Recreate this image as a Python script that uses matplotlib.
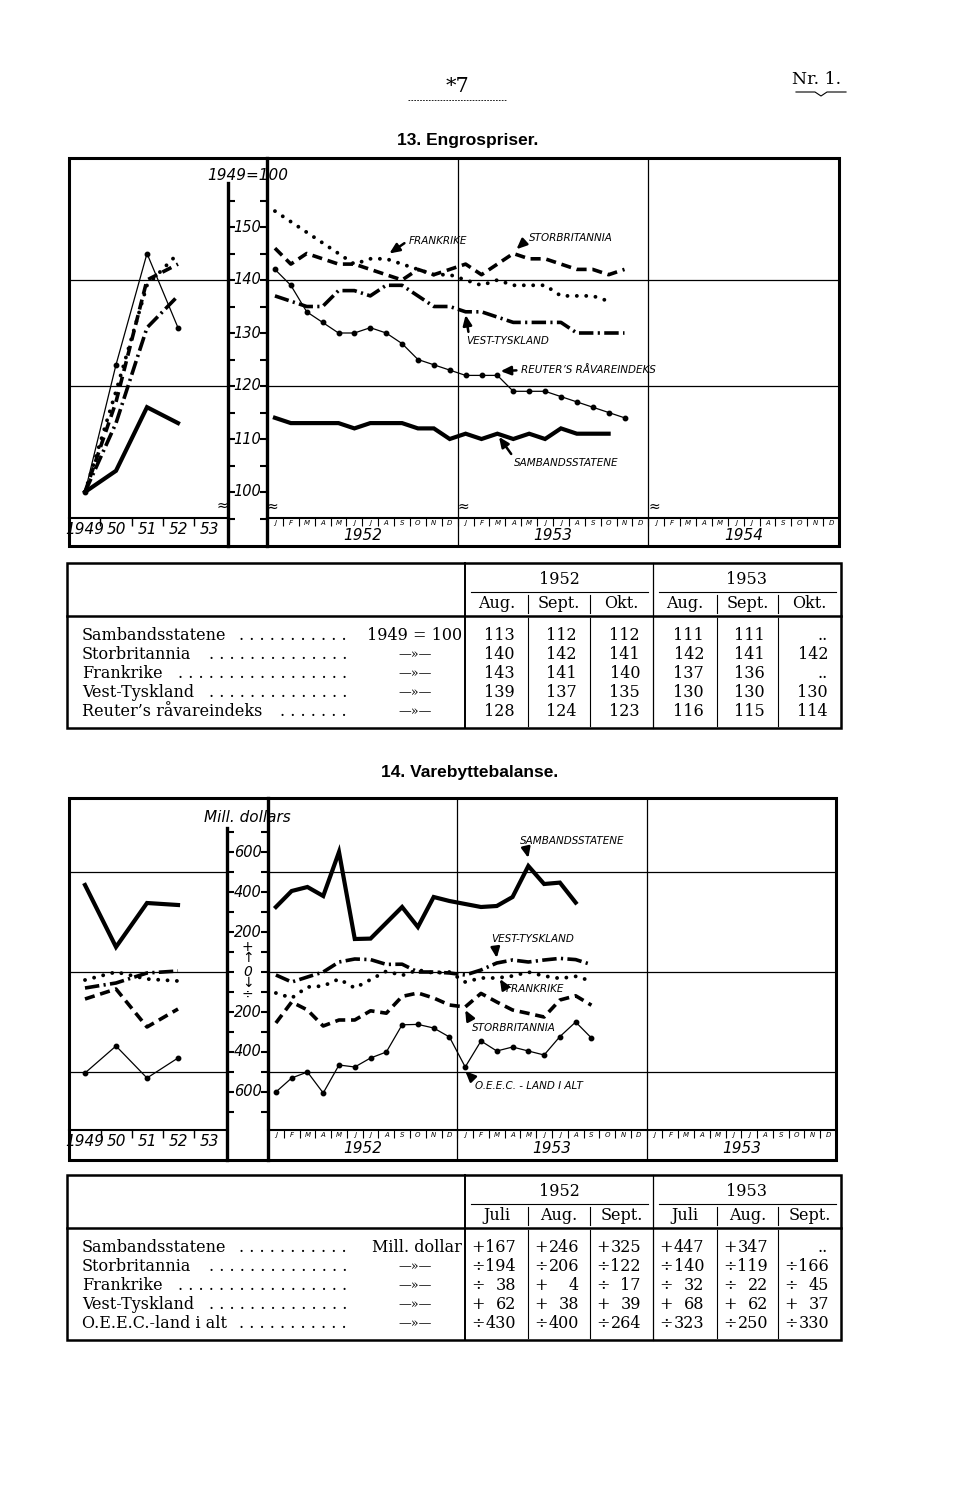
import matplotlib
matplotlib.use("Agg")
import matplotlib.pyplot as plt
from matplotlib.patches import Rectangle
import numpy as np

W, H = 960, 1505

# ---------------------------------------------------------------- data
# 13. Engrospriser (1949 = 100), yearly 1949-52
years = [1949, 1950, 1951, 1952]
wp_year_us = [100, 104, 116, 113]
wp_year_uk = [100, 117, 140, 143]
wp_year_fr = [100, 119, 139, 145]
wp_year_de = [100, 113, 131, 137]
wp_year_reuter = [100, 124, 145, 131]

# monthly, starting January 1952
wp_us = [114, 113, 113, 113, 113, 112, 113, 113, 113, 112, 112, 110,
         111, 110, 111, 110, 111, 110, 112, 111, 111, 111]
wp_uk = [146, 143, 145, 144, 143, 143, 142, 141, 140, 142, 141, 142,
         143, 141, 143, 145, 144, 144, 143, 142, 142, 141, 142]
wp_fr = [153, 151, 149, 147, 145, 143, 144, 144, 143, 142, 141, 141,
         140, 139, 140, 139, 139, 139, 137, 137, 137, 136]
wp_de = [137, 136, 135, 135, 138, 138, 137, 139, 139, 137, 135, 135,
         134, 134, 133, 132, 132, 132, 132, 130, 130, 130, 130]
wp_reuter = [142, 139, 134, 132, 130, 130, 131, 130, 128, 125, 124, 123,
             122, 122, 122, 119, 119, 119, 118, 117, 116, 115, 114]

# 14. Varebyttebalanse (mill. dollars), yearly 1949-52
tb_year_us = [435, 125, 345, 335]
tb_year_uk = [-135, -85, -275, -185]
tb_year_fr = [-40, 0, -35, -45]
tb_year_de = [-80, -55, -5, 5]
tb_year_oeec = [-505, -370, -530, -430]

# monthly, starting January 1952
tb_us = [325, 405, 425, 380, 600, 165, 167, 246, 325, 225, 375, 355,
         340, 325, 330, 375, 530, 440, 447, 347]
tb_uk = [-255, -150, -190, -270, -240, -240, -194, -206, -122, -105, -130, -165,
         -175, -107, -150, -190, -207, -225, -140, -119, -166]
tb_fr = [-105, -130, -75, -70, -35, -80, -38, 4, -17, 10, -5, 0,
         -50, -30, -30, -20, 0, -20, -32, -22, -45]
tb_de = [-15, -50, -25, 0, 50, 65, 62, 38, 39, 0, 0, -5,
         -15, 10, 45, 60, 50, 60, 68, 62, 37]
tb_oeec = [-600, -530, -500, -605, -465, -475, -430, -400, -264, -262, -280, -325,
           -475, -345, -395, -375, -395, -415, -323, -250, -330]

month_letters = ["J", "F", "M", "A", "M", "J", "J", "A", "S", "O", "N", "D"]
year_labels = ["1949", "50", "51", "52", "53"]

# tables
t1_years = ["1952", "1953"]
t1_months = ["Aug.", "Sept.", "Okt.", "Aug.", "Sept.", "Okt."]
t1_names = ["Sambandsstatene", "Storbritannia", "Frankrike", "Vest-Tyskland",
            "Reuter\u2019s råvareindeks"]
t1_unit = "1949 = 100"
t1_values = [
    [113, 112, 112, 111, 111, None],
    [140, 142, 141, 142, 141, 142],
    [143, 141, 140, 137, 136, None],
    [139, 137, 135, 130, 130, 130],
    [128, 124, 123, 116, 115, 114],
]
t2_years = ["1952", "1953"]
t2_months = ["Juli", "Aug.", "Sept.", "Juli", "Aug.", "Sept."]
t2_names = ["Sambandsstatene", "Storbritannia", "Frankrike", "Vest-Tyskland",
            "O.E.E.C.-land i alt"]
t2_unit = "Mill. dollar"
t2_values = [
    [167, 246, 325, 447, 347, None],
    [-194, -206, -122, -140, -119, -166],
    [-38, 4, -17, -32, -22, -45],
    [62, 38, 39, 68, 62, 37],
    [-430, -400, -264, -323, -250, -330],
]

# ---------------------------------------------------------------- styles
SANS = dict(family="DejaVu Sans", style="italic")
SERIF = dict(family="DejaVu Serif")
LINE_US = dict(color="black", lw=3.0, solid_joinstyle="miter")
LINE_UK = dict(color="black", lw=2.6, ls=(0, (2.8, 1.6)))
LINE_FR = dict(color="black", lw=2.8, ls=(0, (0.01, 2.4)), dash_capstyle="round")
LINE_DE = dict(color="black", lw=2.6, ls=(0, (4.0, 1.2, 0.6, 1.2)))
LINE_THIN = dict(color="black", lw=0.9, marker="o", ms=3.2)

YEAR_X, YEAR_W = 85, 31  # pixel x of 1949 and pixels per year in the yearly panels

fig = plt.figure(figsize=(W / 100, H / 100), dpi=100)
fig.patch.set_facecolor("white")
bg = fig.add_axes([0, 0, 1, 1])
bg.set_xlim(0, W)
bg.set_ylim(H, 0)
bg.axis("off")


def frac(x0, y0, x1, y1):
    return [x0 / W, 1 - y1 / H, (x1 - x0) / W, (y1 - y0) / H]


def make_chart(top, base, bottom, left, col_l, col_r, right, val, ticks, grid,
               col_top, year_names):
    lo, hi = val(base), val(top)
    ann = fig.add_axes(frac(left, top, col_l, base), facecolor="none")
    mon = fig.add_axes(frac(col_r, top, right, base), facecolor="none")
    col = fig.add_axes(frac(col_l, top, col_r, bottom), facecolor="none")
    bg.add_patch(Rectangle((left, top), right - left, bottom - top,
                           fill=False, lw=2.2, color="black"))

    ann.set_xlim(1949 - (YEAR_X - left) / YEAR_W, 1949 + (col_l - YEAR_X) / YEAR_W)
    mon.set_xlim(0, 36)
    for ax in (ann, mon):
        ax.set_ylim(lo, hi)
        for s in ("top", "left", "right"):
            ax.spines[s].set_visible(False)
        ax.spines["bottom"].set_linewidth(1.5)
        ax.tick_params(axis="y", left=False, labelleft=False)
        for g in grid:
            ax.axhline(g, color="black", lw=0.9, zorder=1)

    ann.set_xticks(range(1949, 1954))
    ann.set_xticklabels(year_labels, fontsize=11, **SANS)
    ann.set_xticks(np.arange(1949.5, 1953), minor=True)
    ann.tick_params(axis="x", which="major", length=0, pad=3)
    ann.tick_params(axis="x", which="minor", direction="out", length=6, width=1)

    mon.set_xticks(np.arange(36) + 0.5)
    mon.set_xticklabels(month_letters * 3, fontsize=5, **SANS)
    mon.set_xticks(np.arange(1, 36), minor=True)
    mon.tick_params(axis="x", which="major", length=0, pad=1.5)
    mon.tick_params(axis="x", which="minor", direction="out", length=6, width=0.8)
    band = (bottom - base) / (base - top)
    for m in (12, 24):
        mon.axvline(m, ymin=-band, ymax=1, color="black", lw=0.9, clip_on=False)
    for i, name in enumerate(year_names):
        mon.text(12 * i + 6, -0.62 * band, name, transform=mon.get_xaxis_transform(),
                 ha="center", va="center", fontsize=11, **SANS)

    col.set_xlim(0, 1)
    col.set_ylim(val(bottom), hi)
    col.spines["top"].set_visible(False)
    col.spines["bottom"].set_visible(False)
    col.spines["left"].set_linewidth(2.4)
    col.spines["right"].set_linewidth(2.4)
    col.spines["left"].set_bounds(val(bottom), col_top)
    col.set_xticks([])
    col.set_yticks(ticks)
    col.tick_params(axis="y", direction="in", left=True, right=True, length=5,
                    width=1.5, labelleft=False)
    return ann, mon, col


def note(ax, text, xy, offset, relpos=(0, 0.5), va="center"):
    ax.annotate(text, xy=xy, xytext=offset, textcoords="offset pixels",
                ha="left", va=va, fontsize=7.5, **SANS,
                arrowprops=dict(arrowstyle="-|>,head_length=0.8,head_width=0.35",
                                lw=1.8, color="black", shrinkA=1, shrinkB=0,
                                relpos=relpos))


# ---------------------------------------------------------------- header
bg.text(458, 86, "*7", ha="center", va="center", fontsize=15, **SERIF)
bg.plot([408, 506], [100, 100], color="black", lw=0.6, ls=(0, (2, 1.5)))
bg.text(817, 80, "Nr. 1.", ha="center", va="center", fontsize=12.5, **SERIF)
bg.plot([796, 815, 821, 827, 846], [92, 92, 96, 92, 92], color="black", lw=0.8)
bg.text(468, 140, "13. Engrospriser.", ha="center", va="center", fontsize=12.5,
        family="Liberation Sans", weight="bold")
bg.text(470, 773, "14. Varebyttebalanse.", ha="center", va="center", fontsize=12.5,
        family="Liberation Sans", weight="bold")

# ---------------------------------------------------------------- chart 13
def val1(y):
    return 100 + (492 - y) / 5.3


ann1, mon1, col1 = make_chart(158, 518, 546, 69, 228, 267, 839, val1,
                              np.arange(95, 160, 5), [140, 120], val1(183),
                              ["1952", "1953", "1954"])
mx = lambda s: np.arange(len(s)) + 0.5

ann1.plot(years, wp_year_us, **LINE_US)
ann1.plot(years, wp_year_uk, **LINE_UK)
ann1.plot(years, wp_year_fr, **LINE_FR)
ann1.plot(years, wp_year_de, **LINE_DE)
ann1.plot(years, wp_year_reuter, **LINE_THIN)
mon1.plot(mx(wp_us), wp_us, **LINE_US)
mon1.plot(mx(wp_uk), wp_uk, **LINE_UK)
mon1.plot(mx(wp_fr), wp_fr, **LINE_FR)
mon1.plot(mx(wp_de), wp_de, **LINE_DE)
mon1.plot(mx(wp_reuter), wp_reuter, **LINE_THIN)

for v in range(100, 160, 10):
    col1.text(0.5, v, str(v), transform=col1.get_yaxis_transform(), ha="center",
              va="center", fontsize=10.5, **SANS)
col1.text(0.5, val1(175), "1949=100", transform=col1.get_yaxis_transform(),
          ha="center", va="center", fontsize=11, **SANS)
ann1.text(1.0, 0.035, "≈", transform=ann1.transAxes, ha="right", va="center", fontsize=10)
for m in (0, 12, 24):
    mon1.text(m, 0.03, "≈", transform=mon1.get_xaxis_transform(), ha="left",
              va="center", fontsize=10)

note(mon1, "FRANKRIKE", (7.7, wp_fr[7] + 1.0), (19, 13))
note(mon1, "STORBRITANNIA", (15.7, wp_uk[15] + 0.8), (12, 11))
note(mon1, "VEST-TYSKLAND", (12.5, wp_de[12] - 0.6), (1, -21), relpos=(0.03, 1), va="top")
note(mon1, "REUTER\u2019S RÅVAREINDEKS", (14.7, wp_reuter[14] + 0.8), (20, 1))
note(mon1, "SAMBANDSSTATENE", (14.6, wp_us[14] - 0.6), (15, -26), relpos=(0, 1))

# ---------------------------------------------------------------- chart 14
def val2(y):
    return (972 - y) / 0.2


ann2, mon2, col2 = make_chart(798, 1130, 1160, 69, 227, 268, 836, val2,
                              np.arange(-700, 800, 100), [500, 0, -500], val2(828),
                              ["1952", "1953", "1953"])
ann2.plot(years, tb_year_us, **LINE_US)
ann2.plot(years, tb_year_uk, **LINE_UK)
ann2.plot(years, tb_year_fr, **LINE_FR)
ann2.plot(years, tb_year_de, **LINE_DE)
ann2.plot(years, tb_year_oeec, **LINE_THIN)
mon2.plot(mx(tb_us), tb_us, **LINE_US)
mon2.plot(mx(tb_uk), tb_uk, **LINE_UK)
mon2.plot(mx(tb_fr), tb_fr, **LINE_FR)
mon2.plot(mx(tb_de), tb_de, **LINE_DE)
mon2.plot(mx(tb_oeec), tb_oeec, **LINE_THIN)

for v in (600, 400, 200, -200, -400, -600):
    col2.text(0.5, v, str(abs(v)), transform=col2.get_yaxis_transform(), ha="center",
              va="center", fontsize=10.5, **SANS)
for v, s in ((125, "+"), (68, "↑"), (0, "0"), (-55, "↓"), (-115, "÷")):
    col2.text(0.5, v, s, transform=col2.get_yaxis_transform(), ha="center",
              va="center", fontsize=10, **SANS)
col2.text(0.5, val2(817), "Mill. dollars", transform=col2.get_yaxis_transform(),
          ha="center", va="center", fontsize=11, **SANS)

note(mon2, "SAMBANDSSTATENE", (16.5, tb_us[16] + 40), (-8, 17), relpos=(0.05, 0))
note(mon2, "VEST-TYSKLAND", (14.5, tb_de[14] + 25), (-6, 19), relpos=(0.05, 0))
note(mon2, "FRANKRIKE", (14.7, tb_fr[14] - 5), (6, -10))
note(mon2, "STORBRITANNIA", (12.5, tb_uk[12] - 15), (7, -18), relpos=(0, 1))
note(mon2, "O.E.E.C. - LAND I ALT", (12.5, tb_oeec[12] - 20), (10, -15), relpos=(0, 1))

# ---------------------------------------------------------------- tables
renderer = fig.canvas.get_renderer()
COLS = [465, 528, 590, 653, 717, 778, 841]


def draw_table(top, years_, months_, names, unit, values, signed):
    left, right = 67, 841
    bottom = top + 165
    fs = 11.5
    bg.add_patch(Rectangle((left, top), right - left, bottom - top, fill=False,
                           lw=1.8, color="black"))
    bg.plot([COLS[0]] * 2, [top, bottom], color="black", lw=1.4)
    bg.plot([COLS[3]] * 2, [top, bottom], color="black", lw=0.9)
    bg.plot([left, right], [top + 53, top + 53], color="black", lw=1.8)
    for i, yr in enumerate(years_):
        c0, c1 = COLS[3 * i], COLS[3 * i + 3]
        bg.text((c0 + c1) / 2, top + 16, yr, ha="center", va="center", fontsize=fs, **SERIF)
        bg.plot([c0 + 6, c1 - 5], [top + 29, top + 29], color="black", lw=0.8)
    for j, m in enumerate(months_):
        c0, c1 = COLS[j], COLS[j + 1]
        bg.text((c0 + c1) / 2, top + 41, m, ha="center", va="center", fontsize=fs, **SERIF)
        if j not in (0, 3):
            bg.plot([c0, c0], [top + 32, top + 50], color="black", lw=0.8)
            bg.plot([c0, c0], [top + 55, bottom - 2], color="black", lw=0.8)
    for i, name in enumerate(names):
        y = top + 72 + 19.2 * i
        t = bg.text(82, y, name, ha="left", va="center", fontsize=fs, **SERIF)
        start = t.get_window_extent(renderer).x1 + 10
        n = 30
        dots = bg.text(347, y, " ".join("." * n), ha="right", va="center", fontsize=fs, **SERIF)
        while n > 1 and dots.get_window_extent(renderer).x0 < start:
            n -= 1
            dots.set_text(" ".join("." * n))
        if i == 0:
            bg.text(462, y, unit, ha="right", va="center", fontsize=fs, **SERIF)
        else:
            bg.text(415, y, "\u2014\u00bb\u2014", ha="center", va="center",
                    fontsize=fs * 0.8, **SERIF)
        for j, v in enumerate(values[i]):
            c0, c1 = COLS[j], COLS[j + 1]
            if v is None:
                bg.text(c1 - 13, y, "..", ha="right", va="center", fontsize=fs, **SERIF)
            elif signed:
                bg.text(c0 + 6, y, "+" if v >= 0 else "÷", ha="left", va="center",
                        fontsize=fs, **SERIF)
                bg.text(c0 + 51, y, str(abs(v)), ha="right", va="center", fontsize=fs, **SERIF)
            else:
                bg.text(c1 - 13, y, str(v), ha="right", va="center", fontsize=fs, **SERIF)


draw_table(563, t1_years, t1_months, t1_names, t1_unit, t1_values, False)
draw_table(1175, t2_years, t2_months, t2_names, t2_unit, t2_values, True)

fig.savefig("out.png", dpi=100)
